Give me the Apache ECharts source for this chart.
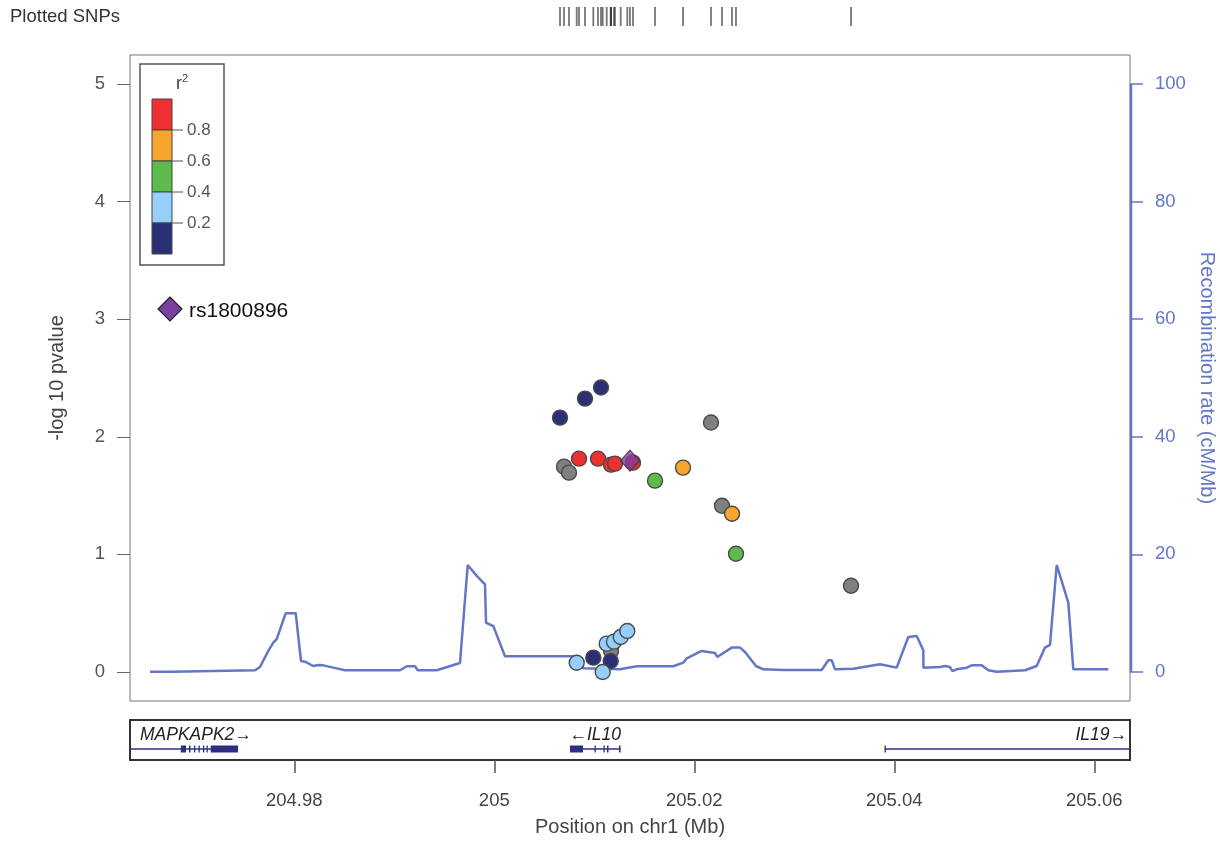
<!DOCTYPE html>
<html><head><meta charset="utf-8">
<script src="https://cdn.jsdelivr.net/npm/echarts@6/dist/echarts.min.js"></script>
<style>html,body{margin:0;padding:0;background:#fff}#c{width:1220px;height:845px}</style>
</head><body><div id="c"></div>
<script>
// ---------- DATA ----------
const snpPos  = [205.02167,205.00697,205.00747,205.02277,205.03567,205.01167,
                 205.00657,205.00907,205.01067,205.00990,205.01164,
                 205.00847,205.01037,205.01167,205.01207,205.01387,
                 205.01607,205.02417,
                 205.01887,205.02377,
                 205.00824,205.01084,205.01124,205.01197,205.01264,205.01330];
const snpLogP = [2.121,1.746,1.695,1.414,0.733,0.18,
                 2.163,2.325,2.419,0.122,0.094,
                 1.814,1.814,1.763,1.772,1.78,
                 1.627,1.005,
                 1.738,1.346,
                 0.079,0.0,0.241,0.258,0.298,0.349];
const snpR2   = [null,null,null,null,null,null,
                 0.1,0.1,0.1,0.1,0.1,
                 0.9,0.9,0.9,0.9,0.9,
                 0.5,0.5,
                 0.7,0.7,
                 0.3,0.3,0.3,0.3,0.3,0.3];
const leadSnpName = 'rs1800896';
const leadSnpPos = 205.01357;
const leadSnpLogP = 1.797;

const recombPos = [204.96557,204.96774,204.96777,204.97607,204.97657,204.9774,204.9779,204.97824,204.97914,204.98014,
  204.98067,204.98107,204.9819,204.9824,204.9829,204.9839,204.98507,204.99057,204.99124,204.99207,
  204.99234,204.99424,204.99657,204.99677,204.99734,204.99824,204.99907,204.99917,204.9999,205.00107,
  205.00807,205.0089,205.01257,205.01424,205.0179,205.0189,205.01924,205.02074,205.02207,205.0223,
  205.02374,205.02457,205.02507,205.02617,205.0269,205.0289,205.03274,205.0334,205.03374,205.03407,
  205.0359,205.03857,205.04024,205.0414,205.04224,205.0429,205.04292,205.04457,205.04507,205.04557,
  205.0458,205.04624,205.04724,205.04774,205.04874,205.0494,205.05024,205.05307,205.05424,205.05507,
  205.05557,205.05624,205.0574,205.0579,205.0614];
const recombRate = [0.05,0.05,0.3,0.3,0.85,3.6,5.0,5.6,10.0,10.0,
  1.87,1.76,1.02,1.19,1.13,0.74,0.3,0.3,0.97,0.97,
  0.3,0.3,1.53,1.53,18.2,16.35,14.9,8.4,7.8,2.67,
  2.67,0.63,0.45,0.97,0.97,1.59,2.33,3.58,3.24,2.56,
  4.15,4.15,3.41,1.02,0.45,0.34,0.34,1.99,1.99,0.45,
  0.56,1.31,0.74,5.96,6.13,3.69,0.74,0.85,1.02,0.85,
  0.17,0.45,0.74,1.14,1.14,0.3,0.05,0.3,1.02,4.15,
  4.6,18.2,11.8,0.45,0.45];

const geneNames   = ['MAPKAPK2','IL10','IL19'];
const geneStarts  = [204.930, 205.00757, 205.03903];
const geneEnds    = [204.97437, 205.01262, 205.090];
const geneStrands = ['+','-','+'];
const geneExonStarts = [
  [204.96865,204.96947,204.96997,204.97042,204.97087,204.97122,204.97164],
  [205.00757,205.01002,205.01092,205.01127,205.01247],
  [205.03903]];
const geneExonEnds = [
  [204.96917,204.96962,204.97007,204.97052,204.97097,204.97132,204.97437],
  [205.00887,205.01012,205.01102,205.01142,205.01262],
  [205.03913]];

const r2Breaks = [0.2,0.4,0.6,0.8];
const r2Colors = ['#2B2F76','#96D0FA','#5DBB4B','#F8A530','#EE3030'];
const noR2Color = '#808080';
const leadColor = '#7A3FA2';

const xMin = 204.96357, xMax = 205.06357;
const xTicks = [204.98,205,205.02,205.04,205.06];
const xTickLabels = ['204.98','205','205.02','205.04','205.06'];
const pMin = -0.2466, pMax = 5.2466;
const pTicks = [0,1,2,3,4,5];
const rateMin = -4.932, rateMax = 104.932;
const rateTicks = [0,20,40,60,80,100];

// ---------- HELPERS ----------
const FONT = 'Liberation Sans';
const recombColor = '#6476C6';
function r2Color(r){
  if (r === null || r === undefined) return noR2Color;
  let k = 0; while (k < r2Breaks.length && r >= r2Breaks[k]) k++;
  return r2Colors[k];
}
const mctx = document.createElement('canvas').getContext('2d');
function textW(t, font){ mctx.font = font; return mctx.measureText(t).width; }

const order = snpPos.map((_,i)=>i).sort((a,b)=>{
  const ra = snpR2[a]===null?-1:snpR2[a], rb = snpR2[b]===null?-1:snpR2[b]; return ra-rb;});
const scatterData = order.map(i=>({value:[snpPos[i], snpLogP[i]], itemStyle:{color:r2Color(snpR2[i])}}));

const GX = 130, GW = 1000;
const chart = echarts.init(document.getElementById('c'), null, {renderer:'canvas'});

const geneFont = 'italic 17.5px "' + FONT + '"';
function renderGene(params, api){
  const i = api.value(2);
  const cs = params.coordSys;
  const L = cs.x, R = cs.x + cs.width;
  const yLine = cs.y + 29;
  const clamp = v => Math.max(L, Math.min(R, v));
  const x0 = clamp(api.coord([api.value(0), 0])[0]);
  const x1 = clamp(api.coord([api.value(1), 0])[0]);
  const col = '#2D2F85';
  const children = [{type:'line', shape:{x1:x0,y1:yLine,x2:x1,y2:yLine}, style:{stroke:col, lineWidth:1.5}}];
  const es = geneExonStarts[i], ee = geneExonEnds[i];
  for (let k=0;k<es.length;k++){
    const a = clamp(api.coord([es[k],0])[0]), b = clamp(api.coord([ee[k],0])[0]);
    children.push({type:'rect', shape:{x:a, y:yLine-3.5, width:Math.max(1.3,b-a), height:7}, style:{fill:col}});
  }
  const label = geneStrands[i]==='+' ? geneNames[i]+'\u2192' : '\u2190'+geneNames[i];
  const w = textW(label, geneFont);
  const mid = api.coord([(api.value(0)+api.value(1))/2,0])[0];
  let cx = Math.max(L+10+w/2, Math.min(R-3-w/2, mid));
  children.push({type:'text', style:{text:label, x:cx, y:cs.y+15, align:'center', verticalAlign:'middle',
    font:geneFont, fill:'#222'}});
  return {type:'group', children};
}

// legend graphics
const legendG = [];
legendG.push({type:'rect', shape:{x:140,y:64,width:84,height:201}, style:{fill:'#fff', stroke:'#555', lineWidth:1.5}, z:100});
legendG.push({type:'text', style:{text:'{a|r}{b|2}', x:182, y:84, align:'center', verticalAlign:'middle',
  rich:{a:{fontSize:18, fontFamily:FONT, fill:'#444'}, b:{fontSize:11, fontFamily:FONT, fill:'#444', verticalAlign:'top', padding:[0,0,11,0]}}}, z:101});
const bh = 31, by0 = 99;
for (let k=r2Colors.length-1;k>=0;k--){
  const row = r2Colors.length-1-k;
  legendG.push({type:'rect', shape:{x:152,y:by0+row*bh,width:20,height:bh}, style:{fill:r2Colors[k], stroke:'#444', lineWidth:1}, z:101});
}
for (let k=r2Breaks.length-1;k>=0;k--){
  const row = r2Breaks.length-k;
  const y = by0 + row*bh;
  legendG.push({type:'line', shape:{x1:172,y1:y,x2:183,y2:y}, style:{stroke:'#555', lineWidth:1}, z:101});
  legendG.push({type:'text', style:{text:r2Breaks[k].toFixed(1), x:187, y:y, verticalAlign:'middle', font:'17px "'+FONT+'"', fill:'#555'}, z:101});
}
// lead snp key
legendG.push({type:'polygon', shape:{points:[[170,297],[182,309],[170,321],[158,309]]}, style:{fill:leadColor, stroke:'#222', lineWidth:1.2}, z:101});
legendG.push({type:'text', style:{text:leadSnpName, x:189, y:311, verticalAlign:'middle', font:'21px "'+FONT+'"', fill:'#111'}, z:101});
legendG.push({type:'text', style:{text:'Plotted SNPs', x:10, y:17, verticalAlign:'middle', font:'18.5px "'+FONT+'"', fill:'#333'}});

const tickFont = 18.5;
const option = {
  animation:false,
  backgroundColor:'#fff',
  textStyle:{fontFamily:FONT},
  grid:[
    {left:GX, top:55, width:GW, height:646, show:true, borderColor:'#777', borderWidth:1, backgroundColor:'transparent', containLabel:false, outerBoundsMode:'none'},
    {left:GX, top:720, width:GW, height:40, show:true, borderColor:'#333', borderWidth:2, backgroundColor:'transparent', containLabel:false, outerBoundsMode:'none'},
    {left:GX, top:7, width:GW, height:19, show:false, containLabel:false, outerBoundsMode:'none'}
  ],
  xAxis:[
    {gridIndex:0, type:'value', min:xMin, max:xMax, show:false},
    {gridIndex:1, type:'value', min:xMin, max:xMax,
     axisLine:{show:false}, splitLine:{show:false},
     axisTick:{show:true, length:13, lineStyle:{color:'#555', width:1.5}, customValues:xTicks},
     axisLabel:{margin:31, fontSize:tickFont, color:'#444', fontFamily:FONT, customValues:xTicks,
       formatter:v=>{const k=xTicks.findIndex(t=>Math.abs(t-v)<1e-6); return k>=0?xTickLabels[k]:'';}},
     name:'Position on chr1 (Mb)', nameLocation:'middle', nameGap:57,
     nameTextStyle:{fontSize:20, color:'#444', fontFamily:FONT}},
    {gridIndex:2, type:'value', min:xMin, max:xMax, show:false}
  ],
  yAxis:[
    {gridIndex:0, type:'value', min:pMin, max:pMax, position:'left',
     axisLine:{show:false}, splitLine:{show:false},
     axisTick:{show:true, length:13, lineStyle:{color:'#666'}, customValues:pTicks},
     axisLabel:{margin:25, fontSize:tickFont, color:'#555', fontFamily:FONT, customValues:pTicks},
     name:'-log 10 pvalue', nameLocation:'middle', nameGap:63, nameRotate:90,
     nameTextStyle:{fontSize:20, color:'#444', fontFamily:FONT}},
    {gridIndex:0, type:'value', min:rateMin, max:rateMax, position:'right',
     axisLine:{show:false}, splitLine:{show:false},
     axisTick:{show:true, length:13, lineStyle:{color:recombColor, width:1.5}, customValues:rateTicks},
     axisLabel:{margin:25, fontSize:tickFont, color:recombColor, fontFamily:FONT, customValues:rateTicks},
     name:'Recombination rate (cM/Mb)', nameLocation:'middle', nameGap:59, nameRotate:-90,
     nameTextStyle:{fontSize:20, color:recombColor, fontFamily:FONT}},
    {gridIndex:1, type:'value', min:0, max:1, show:false},
    {gridIndex:2, type:'value', min:-1, max:1, show:false}
  ],
  series:[
    {type:'line', xAxisIndex:0, yAxisIndex:1, data:recombPos.map((p,i)=>[p,recombRate[i]]),
     showSymbol:false, symbol:'none', lineStyle:{color:recombColor, width:2.5}, z:2, silent:true},
    {type:'scatter', xAxisIndex:0, yAxisIndex:0, data:scatterData, symbol:'circle', symbolSize:15,
     itemStyle:{borderColor:'#4a4a4a', borderWidth:1.4, opacity:1}, z:3},
    {type:'scatter', xAxisIndex:0, yAxisIndex:0, data:[[leadSnpPos, leadSnpLogP]], symbol:'diamond', symbolSize:[19,21],
     itemStyle:{color:leadColor, borderColor:'#333', borderWidth:1.2}, z:4},
    {type:'custom', xAxisIndex:1, yAxisIndex:2, data:geneStarts.map((s,i)=>[s, geneEnds[i], i]),
     encode:{x:[0,1]}, renderItem:renderGene, z:3},
    {type:'scatter', xAxisIndex:2, yAxisIndex:3, data:snpPos.concat([leadSnpPos]).map(p=>[p,0]),
     symbol:'rect', symbolSize:[1.8,19], itemStyle:{color:'rgba(40,40,40,0.8)'}, z:2}
  ],
  graphic:legendG
};
chart.setOption(option);
// blue recombination axis line spanning tick range
const gridRect = chart.getModel().getComponent('grid', 0).coordinateSystem.getRect();
const yTop = chart.convertToPixel({yAxisIndex:1}, rateTicks[rateTicks.length-1]);
const yBot = chart.convertToPixel({yAxisIndex:1}, rateTicks[0]);
const xr = gridRect.x + gridRect.width + 1;
chart.setOption({graphic: legendG.concat([{type:'line', shape:{x1:xr, y1:yTop, x2:xr, y2:yBot}, style:{stroke:recombColor, lineWidth:2.5}, z:50}])});
</script></body></html>
